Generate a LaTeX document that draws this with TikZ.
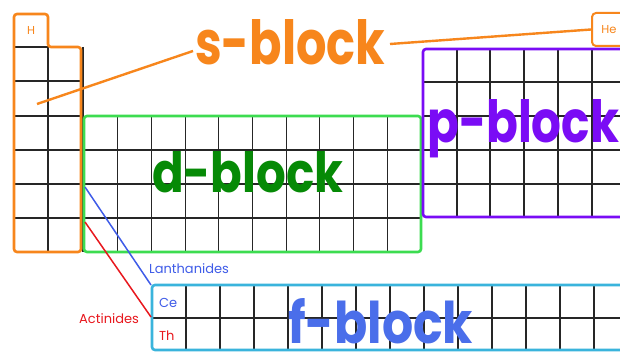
\documentclass[tikz,border=0pt]{standalone}
\usepackage{fontspec}
\setmainfont{Poppins}
\definecolor{sorange}{HTML}{F7861C}
\definecolor{dgreenB}{HTML}{3CDC50}
\definecolor{dgreenT}{HTML}{068A06}
\definecolor{ppurple}{HTML}{7A0CF5}
\definecolor{fcyan}{HTML}{3AB4DC}
\definecolor{fblue}{HTML}{4A6EEA}
\definecolor{lanblue}{HTML}{3F5CE8}
\definecolor{actred}{HTML}{E8181E}
\newcommand{\blocklabel}[3]{\resizebox{#1pt}{#2pt}{\fontsize{60}{60}\selectfont\bfseries #3}}
\begin{document}
\begin{tikzpicture}[x=1pt,y=-1pt,
  gridline/.style={black!85,line width=1.1},
  blockline/.style={line width=2.6,rounded corners=3},
  bigtext/.style={inner sep=0,anchor=base west},
  smalltext/.style={font=\fontsize{13}{13}\selectfont,inner sep=0,anchor=base west},
  tinytext/.style={font=\fontsize{11.5}{11.5}\selectfont,inner sep=0}]
\useasboundingbox (0,0) rectangle (620,352);
\clip (0,0) rectangle (620,352);
\fill[white] (0,0) rectangle (620,352);
% s grid
\foreach \y in {81,116,150,184,218} \draw[gridline] (14,\y) -- (81,\y);
\draw[gridline] (14,47) -- (48,47);
\draw[gridline] (48,47) -- (48,252);
\draw[gridline] (83,47) -- (83,252);
% d grid
\foreach \k in {1,...,9} \draw[gridline] ({84+33.7*\k},116) -- ({84+33.7*\k},252);
\foreach \y in {150,184,218} \draw[gridline] (84,\y) -- (421,\y);
% p grid
\foreach \x in {457,490,524,558,592} \draw[gridline] (\x,49) -- (\x,217);
\foreach \y in {82,116,150,184} \draw[gridline] (423,\y) -- (630,\y);
% f grid
\foreach \k in {1,...,14} \draw[gridline] ({152+34*\k},285) -- ({152+34*\k},350);
\draw[gridline] (152,318) -- (630,318);
% block borders
\draw[blockline,sorange] (14,252) -- (14,14) -- (48,14) -- (48,47) -- (81,47) -- (81,252) -- cycle;
\draw[blockline,dgreenB] (84,116) rectangle (421,252);
\draw[blockline,ppurple] (423,49) rectangle (640,217);
\draw[blockline,fcyan] (152,285) rectangle (640,350);
% element boxes
\node[tinytext,text=sorange,anchor=base west] (H) at (27,35) {H};
\node[draw=sorange,line width=2,rounded corners=4,minimum width=34,minimum height=33,inner sep=0,text=sorange,font=\fontsize{11.5}{11.5}\selectfont] (He) at (609,29.5) {He};
\node[smalltext,text=lanblue] (ce) at (159,307) {Ce};
\node[smalltext,text=actred] (th) at (159,340) {Th};
% big labels
\node[bigtext,text=sorange] (stext) at (195,65) {\blocklabel{190}{45}{s-block}};
\node[bigtext,text=dgreenT] (dtext) at (152,193) {\blocklabel{191}{41}{d-block}};
\node[bigtext,text=ppurple] (ptext) at (427,143) {\blocklabel{192}{43}{p-block}};
\node[bigtext,text=fblue] (ftext) at (288,343) {\blocklabel{185}{45}{f-block}};
% small labels
\node[smalltext,text=lanblue] (lan) at (149,273) {Lanthanides};
\node[smalltext,text=actred] (act) at (79,323) {Actinides};
% connectors
\coordinate (sPt) at (37,104);
\coordinate (sEnd) at (193,51);
\coordinate (sEnd2) at (390,44);
\draw[sorange,line width=2.4] (sPt) -- (sEnd);
\draw[sorange,line width=2.4] (sEnd2) -- (He.west);
\coordinate (dL1) at (85,187);
\coordinate (fTL) at (151,285);
\coordinate (dL2) at (85,222);
\coordinate (fML) at (151,317);
\draw[lanblue,line width=1.5] (dL1) -- (fTL);
\draw[actred,line width=1.5] (dL2) -- (fML);
\end{tikzpicture}
\end{document}
